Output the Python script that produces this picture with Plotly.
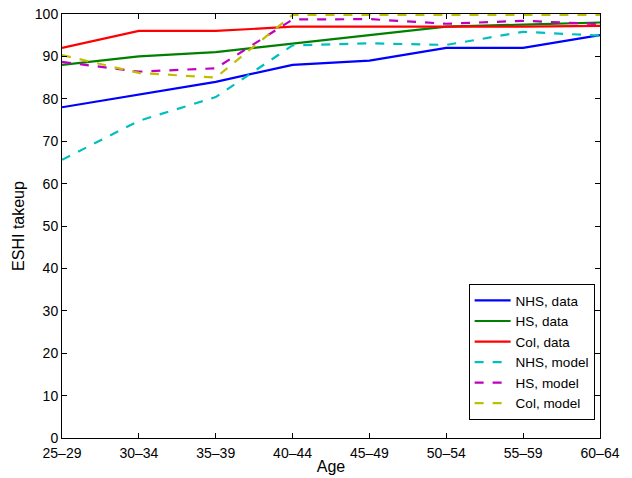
import plotly.graph_objects as go

ages = ["25\u201329", "30\u201334", "35\u201339", "40\u201344", "45\u201349", "50\u201354", "55\u201359", "60\u201364"]

nhs_data = [78, 81, 84, 88, 89, 92, 92, 95]
hs_data = [88, 90, 91, 93, 95, 97, 97.5, 98]
col_data = [92, 96, 96, 97, 97, 97, 97, 97.2]
nhs_model = [65.6, 74.8, 80.4, 92.6, 93.1, 92.7, 95.8, 94.9]
hs_model = [88.7, 86.4, 87.2, 98.7, 98.8, 97.7, 98.4, 97.6]
col_model = [90.3, 86.1, 85.0, 99.8, 99.8, 99.8, 99.8, 99.8]

series = [
    ("NHS, data", nhs_data, "#0000FF", "solid"),
    ("HS, data", hs_data, "#008000", "solid"),
    ("Col, data", col_data, "#FF0000", "solid"),
    ("NHS, model", nhs_model, "#00BFBF", "dash"),
    ("HS, model", hs_model, "#BF00BF", "dash"),
    ("Col, model", col_model, "#BFBF00", "dash"),
]

fig = go.Figure()
for name, vals, color, dash in series:
    fig.add_trace(go.Scatter(x=ages, y=vals, mode="lines", name=name,
                             line=dict(color=color, width=2.2, dash=dash)))

font = dict(family="Liberation Sans, Arial, Helvetica, sans-serif", size=14, color="black")
fig.update_layout(
    width=632, height=478,
    margin=dict(l=62, r=32, t=14, b=40),
    paper_bgcolor="white", plot_bgcolor="white",
    font=font,
    showlegend=True,
    legend=dict(x=0.99, y=0.042, xanchor="right", yanchor="bottom",
                bgcolor="white", bordercolor="black", borderwidth=1,
                font=dict(size=13.5), tracegroupgap=0, itemwidth=36),
)
fig.update_xaxes(type="category", range=[0, 7], showgrid=False, zeroline=False,
                 automargin=False,
                 showline=True, linecolor="black", linewidth=1, mirror="ticks",
                 ticks="inside", ticklen=5, tickcolor="black", ticklabelstandoff=2,
                 title=dict(text="Age", font=dict(size=16), standoff=1))
fig.update_yaxes(range=[0, 100], dtick=10, showgrid=False, zeroline=False,
                 automargin=False,
                 showline=True, linecolor="black", linewidth=1, mirror="ticks",
                 ticks="inside", ticklen=5, tickcolor="black",
                 title=dict(text="ESHI takeup", font=dict(size=16), standoff=6))

fig.write_html("out.html")
